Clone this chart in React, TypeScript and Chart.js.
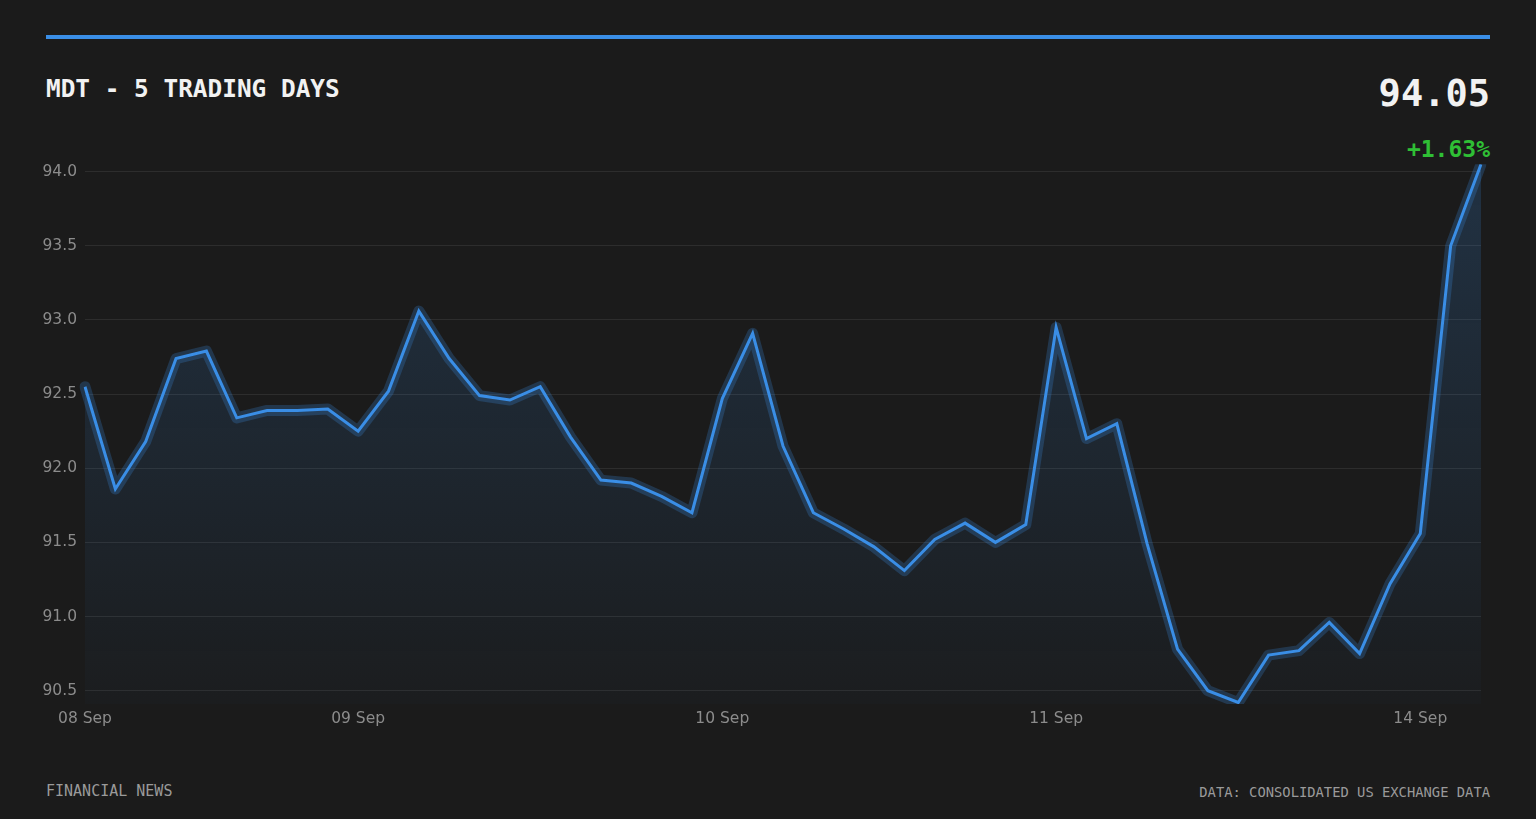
import React, { useEffect, useRef } from "react";
import { Chart, registerables } from "chart.js";

Chart.register(...registerables);

const DAY_LABELS = ["08 Sep", "09 Sep", "10 Sep", "11 Sep", "14 Sep"];
const POINTS_PER_DAY = [9, 12, 11, 12, 3];
const PRICES = [
  92.55, 91.86, 92.18, 92.74, 92.79, 92.34, 92.39, 92.39, 92.4,
  92.25, 92.52, 93.06, 92.74, 92.49, 92.46, 92.55, 92.21, 91.92, 91.9, 91.81, 91.7,
  92.47, 92.91, 92.15, 91.7, 91.59, 91.47, 91.31, 91.52, 91.63, 91.5, 91.62,
  92.95, 92.2, 92.3, 91.49, 90.78, 90.5, 90.42, 90.74, 90.77, 90.96, 90.75, 91.22,
  91.56, 93.5, 94.05,
];
const Y_MIN = 90.41;
const Y_MAX = 94.05;
const Y_STEP = 0.5;

const TITLE = "MDT - 5 TRADING DAYS";
const LAST_PRICE = "94.05";
const CHANGE = "+1.63%";
const SOURCE_LEFT = "FINANCIAL NEWS";
const SOURCE_RIGHT = "DATA: CONSOLIDATED US EXCHANGE DATA";

const BLUE = "#3a8ee6";
const MONO = "'DejaVu Sans Mono', monospace";

export default function App() {
  const canvasRef = useRef<HTMLCanvasElement | null>(null);

  useEffect(() => {
    document.body.style.margin = "0";
    document.body.style.background = "#1b1b1b";
    const canvas = canvasRef.current;
    if (!canvas) return;

    const categories: string[] = [];
    const dayStarts = new Set<number>();
    DAY_LABELS.forEach((d, i) => {
      dayStarts.add(categories.length);
      for (let k = 0; k < POINTS_PER_DAY[i]; k++) categories.push(d);
    });

    const chart = new Chart(canvas, {
      type: "line",
      data: {
        labels: categories,
        datasets: [
          {
            data: PRICES,
            borderColor: BLUE,
            borderWidth: 3,
            pointRadius: 0,
            tension: 0,
            fill: "start",
            backgroundColor: (ctx: any) => {
              const { chart } = ctx;
              const area = chart.chartArea;
              if (!area) return "rgba(58,142,230,0.1)";
              const g = chart.ctx.createLinearGradient(0, area.top, 0, area.bottom);
              g.addColorStop(0, "rgba(58,142,230,0.2)");
              g.addColorStop(1, "rgba(58,142,230,0.02)");
              return g;
            },
          },
          {
            data: PRICES,
            borderColor: "rgba(58,142,230,0.24)",
            borderWidth: 11,
            borderJoinStyle: "round",
            borderCapStyle: "round",
            pointRadius: 0,
            tension: 0,
            fill: false,
          },
        ],
      },
      options: {
        animation: false,
        responsive: false,
        maintainAspectRatio: false,
        layout: { padding: { top: 0, right: 9, left: 0, bottom: 0 } },
        plugins: { legend: { display: false }, tooltip: { enabled: false } },
        scales: {
          x: {
            type: "category",
            grid: { display: false, drawTicks: false },
            border: { display: false },
            ticks: {
              autoSkip: false,
              maxRotation: 0,
              padding: 6,
              color: "#8c8c8c",
              font: { family: "'DejaVu Sans', sans-serif", size: 15.5 },
              callback: function (this: any, value: any) {
                return this.getLabelForValue(value);
              },
            },
            afterBuildTicks: (scale: any) => {
              scale.ticks = scale.ticks.filter((t: any) => dayStarts.has(t.value));
            },
            afterFit: (scale: any) => {
              scale.height = 36;
            },
          },
          y: {
            min: Y_MIN,
            max: Y_MAX,
            grid: { color: "#2d2d2d", lineWidth: 1, drawTicks: false },
            border: { display: false },
            ticks: {
              stepSize: Y_STEP,
              includeBounds: false,
              padding: 8,
              color: "#8c8c8c",
              font: { family: "'DejaVu Sans', sans-serif", size: 15.5 },
              callback: (v: any) => Number(v).toFixed(1),
            },
            afterFit: (scale: any) => {
              scale.width = 55;
            },
          },
        },
      },
    });
    return () => chart.destroy();
  }, []);

  return (
    <div
      style={{
        position: "relative",
        width: 1536,
        height: 819,
        background: "#1b1b1b",
        overflow: "hidden",
      }}
    >
      <div
        style={{
          position: "absolute",
          left: 46,
          top: 35,
          width: 1444,
          height: 4,
          background: BLUE,
        }}
      />
      <div
        style={{
          position: "absolute",
          left: 46,
          top: 77,
          fontFamily: MONO,
          fontWeight: "bold",
          fontSize: 24.4,
          lineHeight: "24px",
          color: "#f2f2f2",
          whiteSpace: "nowrap",
        }}
      >
        {TITLE}
      </div>
      <div
        style={{
          position: "absolute",
          right: 46,
          top: 75,
          fontFamily: MONO,
          fontWeight: "bold",
          fontSize: 37,
          lineHeight: "37px",
          color: "#f2f2f2",
          whiteSpace: "nowrap",
        }}
      >
        {LAST_PRICE}
      </div>
      <div
        style={{
          position: "absolute",
          right: 46,
          top: 138,
          fontFamily: MONO,
          fontWeight: "bold",
          fontSize: 23,
          lineHeight: "23px",
          color: "#2fbf35",
          whiteSpace: "nowrap",
        }}
      >
        {CHANGE}
      </div>
      <canvas
        ref={canvasRef}
        width={1460}
        height={593}
        style={{ position: "absolute", left: 30, top: 147, width: 1460, height: 593 }}
      />
      <div
        style={{
          position: "absolute",
          left: 46,
          top: 784,
          fontFamily: MONO,
          fontSize: 15,
          lineHeight: "15px",
          color: "#9a9a9a",
          whiteSpace: "nowrap",
        }}
      >
        {SOURCE_LEFT}
      </div>
      <div
        style={{
          position: "absolute",
          right: 46,
          top: 785,
          fontFamily: MONO,
          fontSize: 13.8,
          lineHeight: "14px",
          color: "#9a9a9a",
          whiteSpace: "nowrap",
        }}
      >
        {SOURCE_RIGHT}
      </div>
    </div>
  );
}
